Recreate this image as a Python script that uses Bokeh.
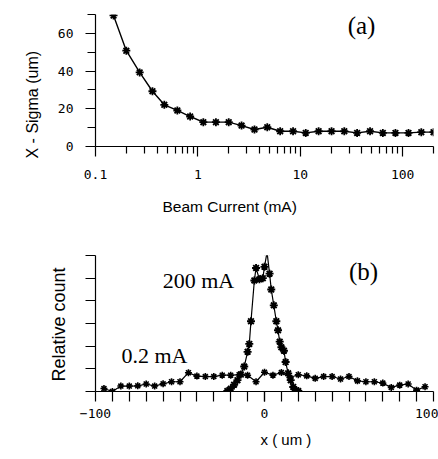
from bokeh.plotting import figure
from bokeh.models import FixedTicker, CustomJSTickFormatter, Label, Range1d, Title
from bokeh.layouts import column
from bokeh.embed import file_html
from bokeh.resources import INLINE

# ---- panel (a): X-sigma vs beam current ----
current_ma = [0.15, 0.2, 0.27, 0.36, 0.47, 0.63, 0.84, 1.13, 1.5, 2.0, 2.67, 3.57,
              4.76, 6.36, 8.5, 11.3, 15.1, 20.2, 26.9, 35.9, 48, 64, 85, 114, 152, 200]
sigma_um = [69.5, 50.8, 39.3, 29.3, 22.1, 19.1, 15.9, 12.9, 12.9, 12.9, 11.1, 9.0,
            10.2, 8.1, 8.1, 7.2, 8.1, 8.1, 8.1, 7.2, 8.1, 7.2, 7.2, 7.2, 7.6, 7.6]

# ---- panel (b): beam profiles ----
x_low = [-95, -90, -85, -80, -75, -70, -65, -60, -55, -50, -45, -40, -35, -30, -25,
         -20, -15, -10, -5, 0, 5, 10, 15, 20, 25, 30, 35, 40, 45, 50, 55, 60, 65,
         70, 75, 80, 85, 90, 95]
count_low = [0.13, 0.0, 0.24, 0.24, 0.25, 0.33, 0.24, 0.34, 0.43, 0.43, 0.83, 0.68,
             0.66, 0.66, 0.72, 0.72, 0.74, 0.72, 0.43, 0.85, 0.72, 0.84, 0.62, 0.74,
             0.69, 0.58, 0.66, 0.66, 0.55, 0.66, 0.47, 0.43, 0.43, 0.37, 0.18, 0.28,
             0.33, 0.06, 0.21]
x_high = [-22, -20, -18, -16, -14, -12, -10, -9, -8, -6, -5, -3, -1, 0, 1.5, 3, 4,
          5.5, 7, 8, 9, 10, 11.5, 12.5, 14, 15.5, 17, 18.5, 20]
count_high = [0.02, 0.12, 0.3, 0.5, 0.75, 1.1, 1.75, 2.1, 3.1, 4.9, 5.45, 4.95, 5.0,
              5.5, 6.15, 5.2, 4.5, 3.8, 3.1, 2.7, 2.2, 1.95, 1.8, 1.3, 0.8, 0.5, 0.2,
              0.03, 0.02]

label_a = "(a)"
label_b = "(b)"
label_high = "200 mA"
label_low = "0.2 mA"

SANS = "Liberation Sans"
MONO = "DejaVu Sans Mono"
SERIF = "Liberation Serif"


def style(p):
    p.outline_line_color = None
    p.xgrid.visible = False
    p.ygrid.visible = False
    for ax in (p.xaxis[0], p.yaxis[0]):
        ax.axis_line_color = "black"
        ax.axis_line_width = 1.2
        ax.major_tick_line_color = "black"
        ax.minor_tick_line_color = "black"
        ax.major_tick_in = 0
        ax.minor_tick_in = 0
        ax.major_tick_line_width = 1.2
        ax.minor_tick_line_width = 1.2
        ax.major_label_text_font = MONO
        ax.major_label_text_font_size = "13px"
        ax.major_label_text_color = "black"


def axis_title(p, text, side, align, offset, standoff, size="15px"):
    p.add_layout(Title(text=text, align=align, offset=offset, standoff=standoff,
                       text_font=SANS, text_font_size=size, text_font_style="normal",
                       text_color="black"), side)


# ---------- figure (a) ----------
p1 = figure(width=438, height=230, x_axis_type="log",
            x_range=Range1d(0.1, 200), y_range=Range1d(0, 70),
            output_backend="svg", toolbar_location=None,
            min_border_left=95, min_border_right=5,
            min_border_top=14, min_border_bottom=84)
style(p1)
p1.xaxis.ticker = FixedTicker(
    ticks=[0.1, 1, 10, 100],
    minor_ticks=[0.2, 0.3, 0.4, 0.5, 0.6, 0.7, 0.8, 0.9,
                 2, 3, 4, 5, 6, 7, 8, 9, 20, 30, 40, 50, 60, 70, 80, 90, 200])
p1.xaxis.formatter = CustomJSTickFormatter(code="return tick.toString();")
p1.xaxis.major_tick_out = 10
p1.xaxis.minor_tick_out = 7
p1.xaxis.major_label_standoff = 13
p1.yaxis.ticker = FixedTicker(ticks=[0, 20, 40, 60], minor_ticks=[10, 30, 50, 70])
p1.yaxis.major_tick_out = 10
p1.yaxis.minor_tick_out = 8
p1.yaxis.major_label_standoff = 12

p1.line(current_ma, sigma_um, line_color="black", line_width=1.4)
p1.scatter(current_ma, sigma_um, marker="asterisk", size=8, line_color="black",
           line_width=1.8)

axis_title(p1, "Beam Current (mA)", "below", "left", 67, 29, size="15.5px")
axis_title(p1, "X - Sigma (um)", "left", "left", -12, 28, size="16px")
p1.add_layout(Label(x=266, y=121, x_units="screen", y_units="screen",
                    text=label_a, text_font=SERIF, text_font_size="25px",
                    text_align="center", text_baseline="middle", text_color="black"))

# ---------- figure (b) ----------
p2 = figure(width=438, height=229,
            x_range=Range1d(-100, 100), y_range=Range1d(0, 6),
            output_backend="svg", toolbar_location=None,
            min_border_left=95, min_border_right=5,
            min_border_top=25, min_border_bottom=68)
style(p2)
p2.xaxis.ticker = FixedTicker(ticks=[-100, 0, 100],
                              minor_ticks=list(range(-90, 100, 10)))
p2.xaxis.major_tick_out = 10
p2.xaxis.minor_tick_out = 10
p2.xaxis.major_label_standoff = 7
p2.yaxis.ticker = FixedTicker(ticks=[0, 1, 2, 3, 4, 5, 6], minor_ticks=[])
p2.yaxis.formatter = CustomJSTickFormatter(code="return '';")
p2.yaxis.major_tick_out = 10

p2.line(x_low, count_low, line_color="black", line_width=1.2)
p2.scatter(x_low, count_low, marker="asterisk", size=7, line_color="black",
           line_width=1.6)
p2.line(x_high, count_high, line_color="black", line_width=1.2)
p2.scatter(x_high, count_high, marker="asterisk", size=8, line_color="black",
           line_width=1.9)

axis_title(p2, "x  ( um )", "below", "left", 165, 16)
axis_title(p2, "Relative count", "left", "right", 12, 33, size="18px")
p2.add_layout(Label(x=268, y=120, x_units="screen", y_units="screen",
                    text=label_b, text_font=SERIF, text_font_size="25px",
                    text_align="center", text_baseline="middle", text_color="black"))
p2.add_layout(Label(x=103, y=111, x_units="screen", y_units="screen",
                    text=label_high, text_font=SERIF, text_font_size="22px",
                    text_align="center", text_baseline="middle", text_color="black"))
p2.add_layout(Label(x=59, y=36, x_units="screen", y_units="screen",
                    text=label_low, text_font=SERIF, text_font_size="22px",
                    text_align="center", text_baseline="middle", text_color="black"))

layout = column(p1, p2, spacing=0)
open("out.html", "w").write(file_html(layout, INLINE))
